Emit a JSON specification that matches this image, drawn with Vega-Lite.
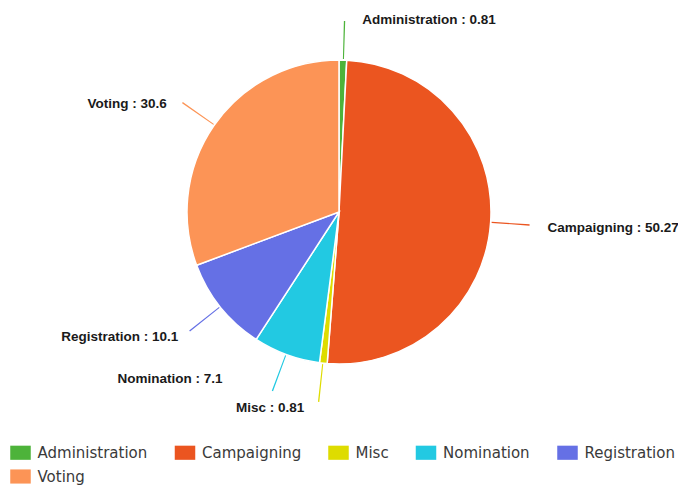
{
  "$schema": "https://vega.github.io/schema/vega-lite/v6.json",
  "width": 678,
  "height": 424,
  "padding": {"top": 0, "left": 0, "right": 0, "bottom": 63},
  "autosize": {"type": "none"},
  "background": "white",
  "data": {
    "values": [
      {"category": "Administration", "value": 0.81},
      {"category": "Campaigning", "value": 50.27},
      {"category": "Misc", "value": 0.81},
      {"category": "Nomination", "value": 7.1},
      {"category": "Registration", "value": 10.1},
      {"category": "Voting", "value": 30.6}
    ]
  },
  "transform": [
    {"joinaggregate": [{"op": "sum", "field": "value", "as": "total"}]},
    {"window": [{"op": "sum", "field": "value", "as": "cum"}], "sort": [{"field": "category", "order": "ascending"}], "frame": [null, 0]},
    {"calculate": "2 * PI * (datum.cum - datum.value / 2) / datum.total", "as": "angle"},
    {"calculate": "datum.angle + 0.007", "as": "angle2"},
    {"calculate": "datum.category + ' : ' + datum.value", "as": "label"}
  ],
  "encoding": {
    "color": {
      "field": "category",
      "type": "nominal",
      "scale": {
        "domain": ["Administration", "Campaigning", "Misc", "Nomination", "Registration", "Voting"],
        "range": ["#4db33a", "#eb5520", "#dedc00", "#22c9e2", "#6570e5", "#fc9456"]
      },
      "legend": {
        "title": null,
        "orient": "none",
        "legendX": 13,
        "legendY": 445,
        "direction": "horizontal",
        "columns": 5,
        "columnPadding": 26.5,
        "rowPadding": 8,
        "symbolType": "M-1.45,-1H1.45V1H-1.45Z",
        "symbolSize": 200,
        "symbolStrokeWidth": 0,
        "symbolOpacity": 1,
        "labelFont": "DejaVu Sans",
        "labelFontSize": 15,
        "labelColor": "#3a3a3a",
        "labelOffset": 9.5,
        "labelLimit": 300
      }
    }
  },
  "layer": [
    {
      "mark": {"type": "arc", "outerRadius": 152, "stroke": "white", "strokeWidth": 1.5},
      "encoding": {
        "theta": {"field": "value", "type": "quantitative", "stack": true, "sort": null},
        "order": {"field": "category", "sort": "ascending"}
      }
    },
    {
      "mark": {"type": "arc", "innerRadius": 153, "outerRadius": 191},
      "encoding": {
        "theta": {"field": "angle", "type": "quantitative", "scale": null, "stack": null},
        "theta2": {"field": "angle2"}
      }
    },
    {
      "mark": {
        "type": "text",
        "radius": 201,
        "font": "Liberation Sans",
        "fontWeight": "bold",
        "fontSize": 13.5,
        "baseline": "middle",
        "align": {"expr": "datum.angle < PI ? 'left' : 'right'"},
        "dx": {"expr": "datum.category === 'Administration' ? 18 : datum.category === 'Nomination' ? -47 : datum.category === 'Misc' ? -14 : datum.category === 'Voting' ? -7 : datum.angle < PI ? 8 : -4"},
        "dy": {"expr": "datum.category === 'Administration' ? 9 : datum.category === 'Nomination' ? -22 : datum.category === 'Misc' ? -4 : datum.category === 'Voting' ? 7 : datum.category === 'Registration' ? -1 : 3"}
      },
      "encoding": {
        "theta": {"field": "angle", "type": "quantitative", "scale": null, "stack": null},
        "text": {"field": "label", "type": "nominal"},
        "color": {"value": "#1a1a1a"}
      }
    }
  ]
}
